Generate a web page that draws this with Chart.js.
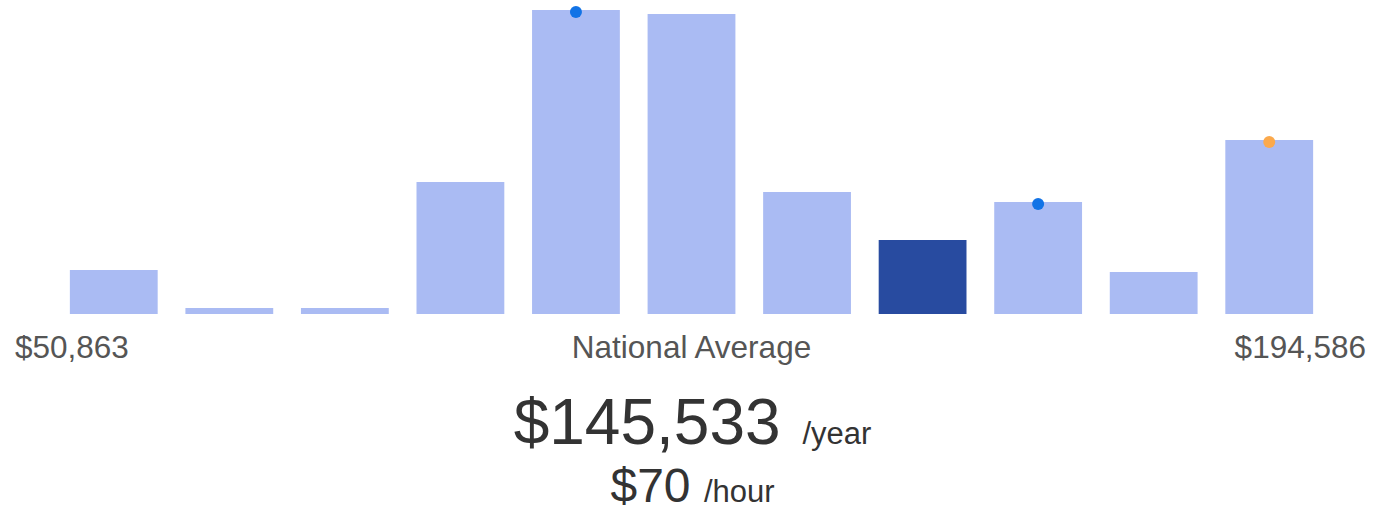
<!DOCTYPE html>
<html>
<head>
<meta charset="utf-8">
<script src="https://cdn.jsdelivr.net/npm/chart.js@4"></script>
<style>
  body { margin: 0; background: #fff; font-family: 'Liberation Sans', Arial, sans-serif; }
  .wrap { position: relative; width: 1373px; height: 512px; }
  .plot { position: absolute; left: 0; top: 0; width: 1373px; height: 316px; }
  .lbl { position: absolute; top: 328px; font-size: 31.5px; color: #555; line-height: 38px; white-space: nowrap; }
  .salary { position: absolute; left: 6px; width: 1373px; text-align: center; color: #333; white-space: nowrap; }
</style>
</head>
<body>
<div class="wrap">
  <div class="plot"><canvas id="chart"></canvas></div>
  <div class="lbl" id="minLabel" style="left:15px"></div>
  <div class="lbl" id="midLabel" style="left:0;width:1383px;text-align:center"></div>
  <div class="lbl" id="maxLabel" style="right:7px"></div>
  <div class="salary" style="top:384px;font-size:64px;line-height:76px">
    <span id="yearly"></span> <span style="font-size:31px;margin-left:4px">/year</span>
  </div>
  <div class="salary" style="top:461px;font-size:48px;line-height:50px">
    <span id="hourly"></span> <span style="font-size:31px">/hour</span>
  </div>
</div>
<script>
const buckets = ['1', '2', '3', '4', '5', '6', '7', '8', '9', '10', '11']
const counts = [44, 6, 6, 132, 304, 300, 122, 74, 112, 42, 174]
const highlightIndex = 7
const markers = [null, null, null, null, 302, null, null, null, 110, null, 172]
const markerColors = ['#1273e6', '#1273e6', '#1273e6', '#1273e6', '#1273e6', '#1273e6', '#1273e6', '#1273e6', '#1273e6', '#1273e6', '#fba94c']
const rangeLabels = ['$50,863', 'National Average', '$194,586']
const yearlyPay = '$145,533'
const hourlyPay = '$70'

document.getElementById('minLabel').textContent = rangeLabels[0]
document.getElementById('midLabel').textContent = rangeLabels[1]
document.getElementById('maxLabel').textContent = rangeLabels[2]
document.getElementById('yearly').textContent = yearlyPay
document.getElementById('hourly').textContent = hourlyPay

const barColors = counts.map((_, i) => (i === highlightIndex ? '#284ba0' : '#aabbf3'))

new Chart(document.getElementById('chart'), {
  type: 'bar',
  data: {
    labels: buckets,
    datasets: [
      {
        type: 'line',
        data: markers,
        showLine: false,
        pointRadius: 6,
        pointBorderWidth: 0,
        pointBackgroundColor: markerColors,
        order: 0,
      },
      {
        data: counts,
        backgroundColor: barColors,
        borderWidth: 0,
        barPercentage: 0.76,
        categoryPercentage: 1,
        order: 1,
      },
    ],
  },
  options: {
    responsive: true,
    maintainAspectRatio: false,
    animation: false,
    layout: { autoPadding: false, padding: { left: 56, right: 46, top: 0, bottom: 2 } },
    plugins: { legend: { display: false }, tooltip: { enabled: false } },
    scales: {
      x: { display: false, offset: true },
      y: { display: false, min: 0, max: 314 },
    },
  },
})
</script>
</body>
</html>
